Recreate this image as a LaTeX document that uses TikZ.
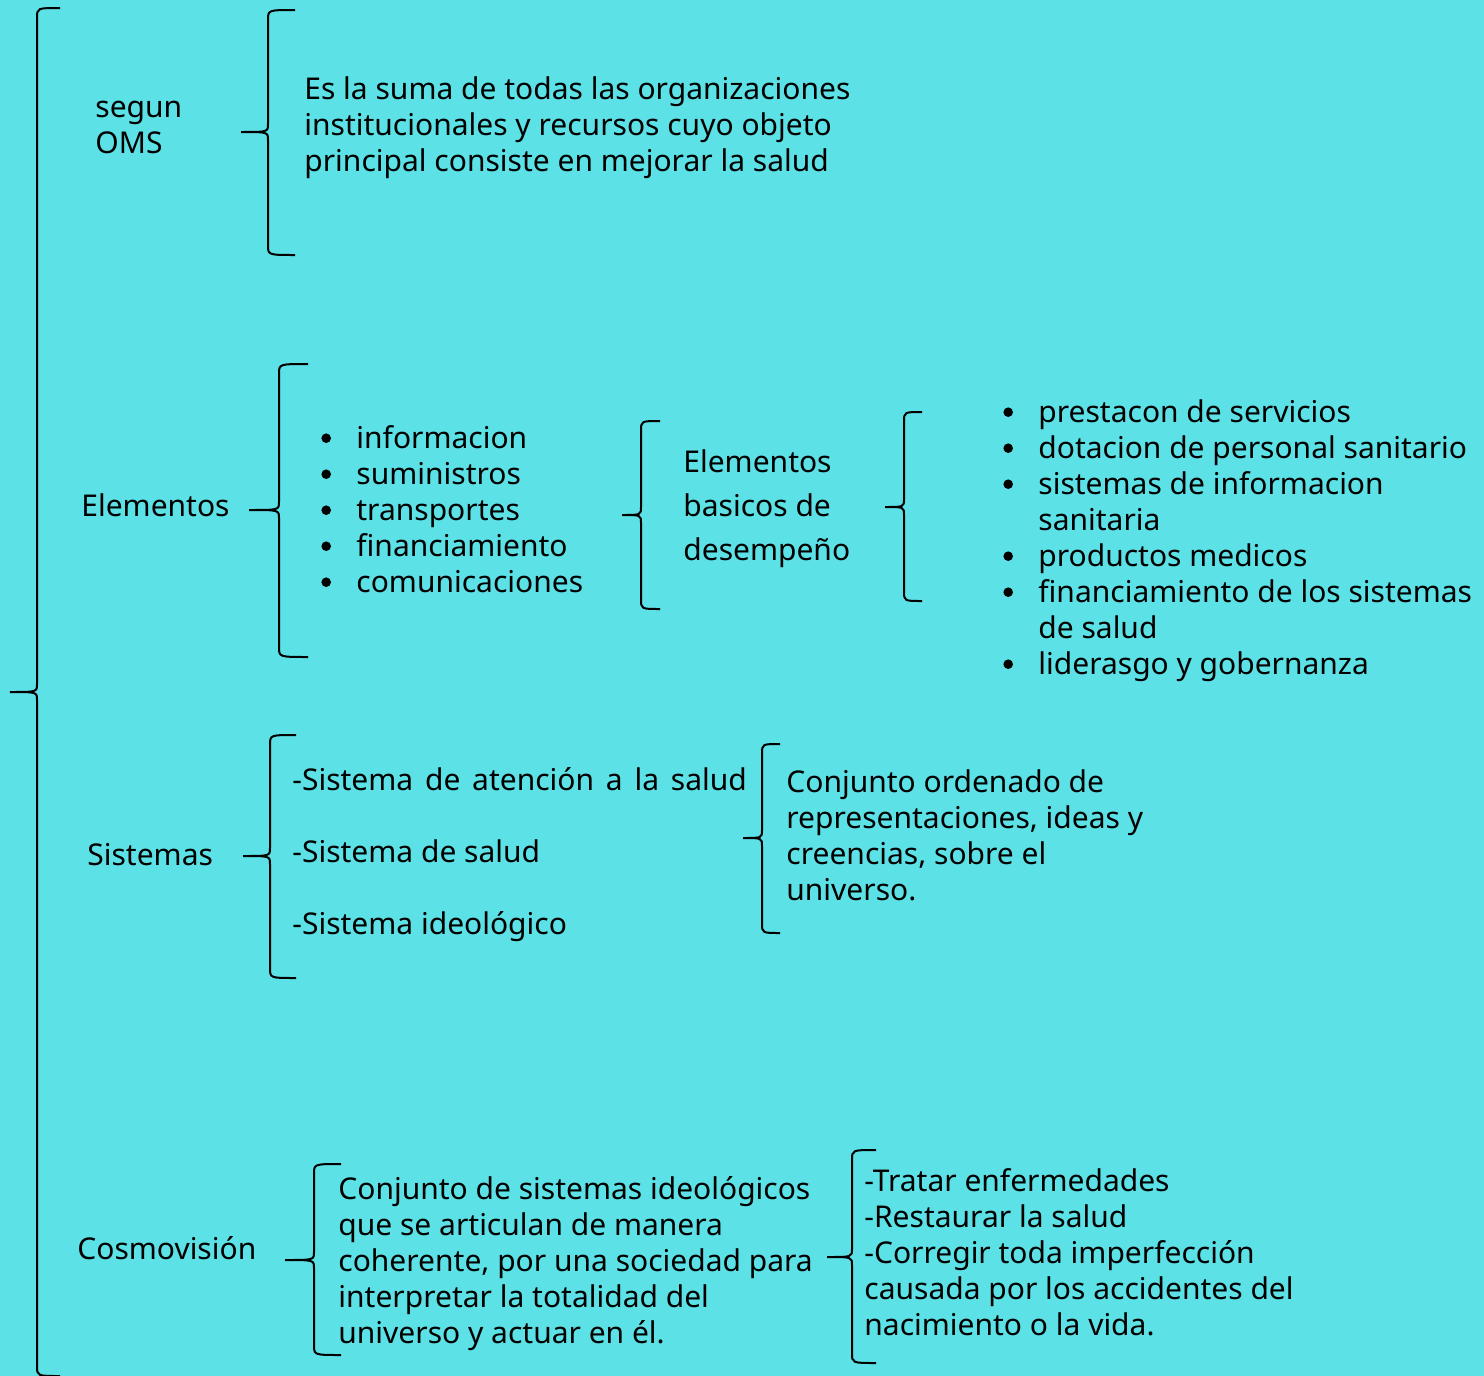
\documentclass[tikz,border=0pt]{standalone}
\usepackage{fontspec}
\setmainfont{Noto Sans}
\definecolor{fondo}{HTML}{5CE1E6}
\tikzset{
	txt/.style={anchor=west, inner sep=0pt, align=left, font=\fontsize{15}{18}\selectfont},
	bajo/.style={yshift=-2pt},
	llave/.style={line width=1pt, black}
}
% x, x extremo, arriba, abajo, x punta, y medio
\newcommand{\llave}[6]{%
	\draw[llave] (#2,#3) .. controls (#1,#3) .. (#1,#3+10) -- (#1,#6-8)
		.. controls (#1,#6) .. (#5,#6) .. controls (#1,#6) .. (#1,#6+8)
		-- (#1,#4-10) .. controls (#1,#4) .. (#2,#4);
}
\newcommand{\punto}{\tikz[baseline=-5pt]\fill (0,0) circle (2.4pt);}
\begin{document}
\begin{tikzpicture}[x=0.5pt, y=-0.5pt]
				\fill[fondo] (0,0) rectangle (1484,1376);
				\useasboundingbox (0,0) rectangle (1484,1376);
				% llaves
				\llave{37}{60}{8}{1376}{10}{692}
				\llave{268}{295}{10}{255}{241}{132}
				\llave{279}{308}{364}{657}{249}{510}
				\llave{641}{660}{421}{609}{622}{515}
				\llave{904}{922}{412}{601}{885}{507}
				\llave{270}{296}{735}{978}{243}{856}
				\llave{762}{780}{744}{933}{743}{838}
				\llave{314}{341}{1164}{1355}{285}{1260}
				\llave{852}{876}{1150}{1363}{827}{1257}
				% textos
				\coordinate (T0) at (95,123);
				\coordinate (T1) at (304,124);
				\coordinate (T2) at (81,505);
				\coordinate (T3) at (321,509);
				\coordinate (T4) at (683,505);
				\coordinate (T5) at (1003,537);
				\coordinate (T6) at (87,855);
				\coordinate (T7) at (292,851);
				\coordinate (T8) at (786,835);
				\coordinate (T9) at (77,1248);
				\coordinate (T10) at (338,1260);
				\coordinate (T11) at (864,1252);
				\node[txt, bajo] (oms) at (T0) {segun\\OMS};
				\node[txt, bajo] (def) at (T1) {Es la suma de todas las organizaciones\\institucionales y recursos cuyo objeto\\principal consiste en mejorar la salud};
				\node[txt] (elem) at (T2) {Elementos};
				\node[txt, bajo] (lista) at (T3) {\begin{tabular}{@{}l@{\hspace{12.7pt}}l@{}}
					\punto & informacion\\
					\punto & suministros\\
					\punto & transportes\\
					\punto & financiamiento\\
					\punto & comunicaciones
				\end{tabular}};
				\node[txt, bajo, font=\fontsize{15}{22}\selectfont] (basicos) at (T4) {Elementos\\basicos de\\desempeño};
				\node[txt, bajo] (bloques) at (T5) {\begin{tabular}{@{}l@{\hspace{12.7pt}}l@{}}
					\punto & prestacon de servicios\\
					\punto & dotacion de personal sanitario\\
					\punto & sistemas de informacion\\
					  & sanitaria\\
					\punto & productos medicos\\
					\punto & financiamiento de los sistemas\\
					  & de salud\\
					\punto & liderasgo y gobernanza
				\end{tabular}};
				\node[txt] (sist) at (T6) {Sistemas};
				\node[txt, bajo] (tipos) at (T7) {{\spaceskip=5.9pt -Sistema de atención a la salud}\\[18pt]-Sistema de salud\\[18pt]-Sistema ideológico};
				\node[txt] (conj) at (T8) {Conjunto ordenado de\\representaciones, ideas y\\creencias, sobre el\\universo.};
				\node[txt] (cosmo) at (T9) {Cosmovisión};
				\node[txt, bajo] (artic) at (T10) {Conjunto de sistemas ideológicos\\que se articulan de manera\\coherente, por una sociedad para\\interpretar la totalidad del\\universo y actuar en él.};
				\node[txt] (fines) at (T11) {-Tratar enfermedades\\-Restaurar la salud\\-Corregir toda imperfección\\causada por los accidentes del\\nacimiento o la vida.};
\end{tikzpicture}
\end{document}
